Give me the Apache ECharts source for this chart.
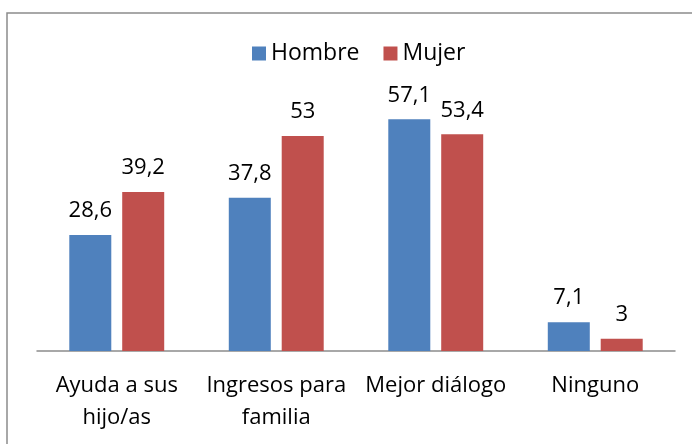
<!DOCTYPE html>
<html><head><meta charset="utf-8">
<script src="https://cdn.jsdelivr.net/npm/echarts@6/dist/echarts.min.js"></script>
<style>html,body{margin:0;padding:0;background:#fff}#c{width:692px;height:444px}</style>
</head><body><div id="c"></div>
<script>
const categories = ['Ayuda a sus\nhijo/as', 'Ingresos para\nfamilia', 'Mejor diálogo', 'Ninguno'];
const hombre = [28.6, 37.8, 57.1, 7.1];
const mujer = [39.2, 53, 53.4, 3];
const seriesNames = ['Hombre', 'Mujer'];
const fmt = p => String(p.value).replace('.', ',');
const font = 'Open Sans';
const chart = echarts.init(document.getElementById('c'));
chart.setOption({
  animation: false,
  textStyle: {fontFamily: font},
  graphic: [{type: 'rect', shape: {x: 7, y: 13, width: 700, height: 460}, style: {fill: 'none', stroke: '#8c8c8c', lineWidth: 1.5}}],
  legend: {top: 37, left: 247, itemWidth: 14, itemHeight: 14, itemGap: 24,
    textStyle: {fontSize: 23, color: '#000', fontFamily: font}, icon: 'rect', data: seriesNames},
  grid: {left: 37, right: 17, top: 67, bottom: 93},
  xAxis: {type: 'category', data: categories,
    axisLine: {lineStyle: {color: '#8c8c8c', width: 1.5}}, axisTick: {show: false},
    axisLabel: {fontSize: 22, color: '#000', lineHeight: 32, margin: 19, fontFamily: font, interval: 0}},
  yAxis: {type: 'value', min: 0, max: 70, show: false, splitLine: {show: false}},
  series: [
    {name: seriesNames[0], type: 'bar', data: hombre, barWidth: 42, barGap: '26%', itemStyle: {color: '#4F81BD'},
     label: {show: true, position: 'top', distance: 13, fontSize: 22, color: '#000', formatter: fmt, fontFamily: font}},
    {name: seriesNames[1], type: 'bar', data: mujer, barWidth: 42, itemStyle: {color: '#C0504D'},
     label: {show: true, position: 'top', distance: 13, fontSize: 22, color: '#000', formatter: fmt, fontFamily: font}}
  ]
});
</script></body></html>
